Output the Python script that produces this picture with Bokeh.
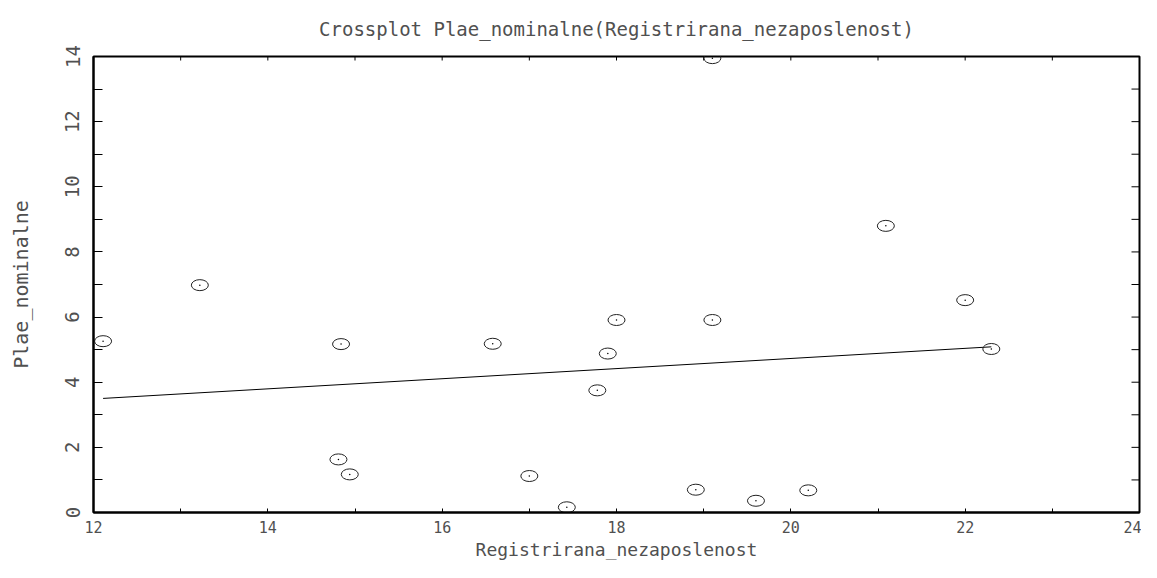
import numpy as np
from bokeh.plotting import figure
from bokeh.models import Range1d, LinearAxis, FixedTicker, ColumnDataSource
from bokeh.embed import file_html
from bokeh.resources import INLINE

# ---- data ----
registrirana_nezaposlenost = [12.11, 13.22, 14.84, 14.81, 14.94, 16.58, 17.00, 17.43, 17.78, 17.90,
                              18.00, 19.10, 18.91, 19.60, 20.20, 21.09, 22.00, 22.30, 19.10]
plae_nominalne = [5.26, 6.98, 5.17, 1.63, 1.17, 5.18, 1.12, 0.16, 3.75, 4.88,
                  5.91, 5.91, 0.70, 0.36, 0.68, 8.80, 6.52, 5.02, 13.95]
x_major_ticks = [12, 14, 16, 18, 20, 22, 24]
x_minor_ticks = [13, 15, 17, 19, 21, 23]
y_major_ticks = [0, 2, 4, 6, 8, 10, 12, 14]
y_minor_ticks = [1, 3, 5, 7, 9, 11, 13]

title_text = "Crossplot Plae_nominalne(Registrirana_nezaposlenost)"
x_label = "Registrirana_nezaposlenost"
y_label = "Plae_nominalne"

X_MIN, X_MAX = 12, 24
Y_MIN, Y_MAX = 0, 14

FONT = "DejaVu Sans Mono"
TXT = "#505050"

# least squares fit line over the data range
xs = np.array(registrirana_nezaposlenost)
ys = np.array(plae_nominalne)
slope, intercept = np.polyfit(xs, ys, 1)
fit_x = [xs.min(), xs.max()]
fit_y = [intercept + slope * v for v in fit_x]

p = figure(width=1141, height=562, output_backend="svg", toolbar_location=None,
           x_range=Range1d(X_MIN, X_MAX), y_range=Range1d(Y_MIN, Y_MAX),
           x_axis_location=None, y_axis_location=None,
           min_border_left=93, min_border_right=2, min_border_top=56, min_border_bottom=46)
p.title.text = title_text
p.title.align = "center"
p.title.vertical_align = "top"
p.title.text_font = FONT
p.title.text_font_size = "19px"
p.title.text_font_style = "normal"
p.title.text_color = TXT
p.title.standoff = 29
p.grid.visible = False
p.outline_line_color = "black"
p.outline_line_width = 2
p.background_fill_color = "white"
p.border_fill_color = "white"


def make_axis(major, minor, tick_len):
    ax = LinearAxis(ticker=FixedTicker(ticks=major, minor_ticks=minor))
    ax.axis_line_color = "black"
    ax.axis_line_width = 2
    ax.major_tick_in = tick_len
    ax.major_tick_out = 0
    ax.minor_tick_in = tick_len
    ax.minor_tick_out = 0
    ax.major_tick_line_color = "black"
    ax.minor_tick_line_color = "black"
    ax.major_label_text_font = FONT
    ax.major_label_text_color = TXT
    ax.axis_label_text_font = FONT
    ax.axis_label_text_color = TXT
    ax.axis_label_text_font_style = "normal"
    return ax


bottom = make_axis(x_major_ticks, x_minor_ticks, 4)
bottom.major_label_text_font_size = "15px"
bottom.major_label_standoff = 8
bottom.axis_label = x_label
bottom.axis_label_text_font_size = "18px"
bottom.axis_label_standoff = 3
p.add_layout(bottom, "below")

left = make_axis(y_major_ticks, y_minor_ticks, 9)
left.major_label_text_font_size = "19px"
left.major_label_orientation = "vertical"
left.major_label_standoff = 14
left.axis_label = y_label
left.axis_label_text_font_size = "20px"
left.axis_label_standoff = 30
p.add_layout(left, "left")

# inward ticks on the top and right frame edges (markers clipped by the frame)
top_ticks = sorted(x_major_ticks + x_minor_ticks)
right_ticks = sorted(y_major_ticks + y_minor_ticks)
p.scatter(x=top_ticks, y=[Y_MAX] * len(top_ticks), marker="dash", size=8, angle=np.pi / 2,
          line_color="black", line_width=1)
p.scatter(x=[X_MAX] * len(right_ticks), y=right_ticks, marker="dash", size=16,
          line_color="black", line_width=1)

src = ColumnDataSource(data=dict(x=registrirana_nezaposlenost, y=plae_nominalne))
p.line(fit_x, fit_y, line_color="black", line_width=1)
p.ellipse(x="x", y="y", width=17, height=11, width_units="screen", height_units="screen",
          source=src, fill_color=None, line_color="#222222", line_width=1)
p.scatter(x="x", y="y", source=src, size=1.5, marker="circle", fill_color="black", line_color=None)

open("out.html", "w").write(file_html(p, INLINE))
